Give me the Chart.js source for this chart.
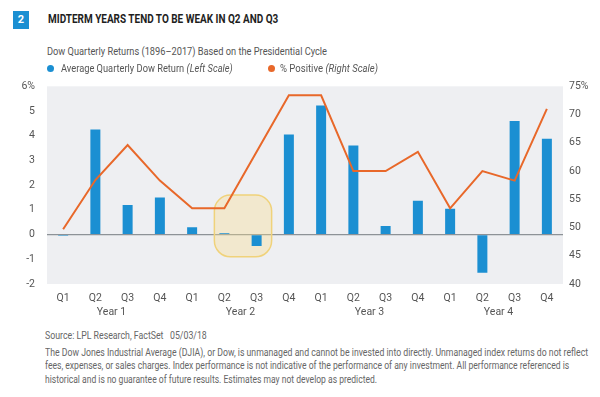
<!DOCTYPE html>
<html>
<head>
<meta charset="utf-8">
<script src="https://cdn.jsdelivr.net/npm/chart.js@4/dist/chart.umd.min.js"></script>
<style>
  html, body { margin: 0; padding: 0; background: #fff; }
  body { width: 600px; height: 397px; position: relative; overflow: hidden;
         font-family: "Roboto", "Liberation Sans", sans-serif; color: #444; }
  .fit { position: absolute; white-space: nowrap; transform-origin: 0 50%; }
  .badge { position: absolute; left: 13px; top: 11px; width: 16px; height: 18px; background: #1b8fd2;
           color: #fff; font-weight: bold; font-size: 11px; text-align: center; line-height: 18px; }
  .title { left: 48px; top: 11px; font-size: 12px; font-weight: bold; color: #1e1e1e; line-height: 16px; }
  .subtitle { left: 47px; top: 45px; font-size: 11px; color: #555; line-height: 14px; }
  .legend { top: 61.5px; font-size: 11px; color: #555; line-height: 13px; }
  .dot { position: absolute; top: 64.5px; width: 7px; height: 7px; border-radius: 50%; }
  .chart-wrap { position: absolute; left: 0; top: 68px; width: 600px; height: 254px; }
  .source { left: 45px; top: 328.5px; font-size: 10.5px; color: #666; line-height: 13px; }
  .note { left: 45px; font-size: 10px; color: #666; line-height: 12px; }
</style>
</head>
<body>
<div class="badge">2</div>
<div class="fit title" data-w="230">MIDTERM YEARS TEND TO BE WEAK IN Q2 AND Q3</div>
<div class="fit subtitle" data-w="280">Dow Quarterly Returns (1896–2017) Based on the Presidential Cycle</div>
<div class="chart-wrap"><canvas id="cycleChart"></canvas></div>
<span class="dot" style="left:47px;background:#1b8fd2;"></span>
<div class="fit legend" style="left:61px;" data-w="172">Average Quarterly Dow Return <i>(Left Scale)</i></div>
<span class="dot" style="left:268px;background:#e8682a;"></span>
<div class="fit legend" style="left:280px;" data-w="98">% Positive <i>(Right Scale)</i></div>
<div class="fit source" data-w="162">Source: LPL Research, FactSet&nbsp;&nbsp;&nbsp;05/03/18</div>
<div class="fit note" style="top:346.5px;" data-w="543">The Dow Jones Industrial Average (DJIA), or Dow, is unmanaged and cannot be invested into directly. Unmanaged index returns do not reflect</div>
<div class="fit note" style="top:360px;" data-w="524">fees, expenses, or sales charges. Index performance is not indicative of the performance of any investment. All performance referenced is</div>
<div class="fit note" style="top:373.5px;" data-w="332">historical and is no guarantee of future results. Estimates may not develop as predicted.</div>

<script>
// ═══ 데이터 ═══
const quarters    = ['Q1', 'Q2', 'Q3', 'Q4', 'Q1', 'Q2', 'Q3', 'Q4', 'Q1', 'Q2', 'Q3', 'Q4', 'Q1', 'Q2', 'Q3', 'Q4'];
const years       = ['Year 1', 'Year 2', 'Year 3', 'Year 4'];
const avgReturn   = [-0.05, 4.25, 1.2, 1.5, 0.3, 0.05, -0.46, 4.05, 5.22, 3.6, 0.35, 1.37, 1.04, -1.54, 4.6, 3.88];
const pctPositive = [49.7, 58.4, 64.6, 58.3, 53.4, 53.4, 63.4, 73.4, 73.4, 60.0, 60.0, 63.4, 53.4, 60.0, 58.3, 71.0];
const leftTicks   = { min: -2, max: 6, step: 1 };
const rightTicks  = { min: 40, max: 75, step: 5 };

// 좁은 글꼴 흉내: 원본 폭에 맞춰 가로로 눌러줌
document.querySelectorAll('.fit').forEach(el => {
    const target = +el.dataset.w;
    el.style.transform = `scaleX(${target / el.scrollWidth})`;
});

const tickFont = { family: '"Roboto", "Liberation Sans", sans-serif', size: 10.5 };

// 차트 영역 배경 + 강조 박스 (Year 2 Q2~Q3)
const backdropPlugin = {
    id: 'backdrop',
    beforeDraw(chart) {
        const { ctx, chartArea: a } = chart;
        ctx.save();
        ctx.fillStyle = '#eeeff2';
        ctx.fillRect(a.left, a.top, a.right - a.left, a.bottom - a.top);
        ctx.restore();
    },
    beforeDatasetsDraw(chart) {
        const { ctx, scales } = chart;
        const x0 = scales.x.getPixelForValue(5) - 10;
        const x1 = scales.x.getPixelForValue(6) + 15;
        const y0 = scales.y.getPixelForValue(1.6);
        const y1 = scales.y.getPixelForValue(-0.9);
        ctx.save();
        ctx.beginPath();
        ctx.roundRect(x0, y0, x1 - x0, y1 - y0, 16);
        ctx.fillStyle = 'rgba(250, 222, 140, 0.35)';
        ctx.fill();
        ctx.lineWidth = 1.5;
        ctx.strokeStyle = '#f0d27a';
        ctx.stroke();
        ctx.restore();
    }
};

new Chart(document.getElementById('cycleChart').getContext('2d'), {
    data: {
        labels: quarters,
        datasets: [
            {
                type: 'line',
                data: pctPositive,
                yAxisID: 'y2',
                borderColor: '#e8682a',
                borderWidth: 2,
                pointRadius: 0,
                tension: 0,
                order: 0
            },
            {
                type: 'bar',
                data: avgReturn,
                yAxisID: 'y',
                backgroundColor: '#1b8fd2',
                barPercentage: 0.31,
                categoryPercentage: 1,
                order: 1
            }
        ]
    },
    options: {
        responsive: true,
        maintainAspectRatio: false,
        animation: false,
        layout: { padding: 0 },
        plugins: { legend: { display: false }, tooltip: { enabled: false } },
        scales: {
            x: {
                position: 'bottom',
                grid: { display: false, drawTicks: false },
                border: { display: false },
                ticks: { font: tickFont, color: '#555', padding: 8, maxRotation: 0 },
                afterFit: s => { s.height = 22; }
            },
            x2: {
                type: 'category',
                labels: years,
                position: 'bottom',
                offset: true,
                grid: { display: false, drawTicks: false },
                border: { display: false },
                ticks: { font: tickFont, color: '#555', padding: 0, maxRotation: 0 },
                afterFit: s => { s.height = 16; }
            },
            y: {
                position: 'left',
                min: leftTicks.min, max: leftTicks.max,
                ticks: { stepSize: leftTicks.step, font: tickFont, color: '#555', padding: 12,
                         callback: v => v === leftTicks.max ? v + '%' : v },
                grid: { drawTicks: false, color: c => c.tick && c.tick.value === 0 ? '#8d9297' : 'transparent', lineWidth: 1.2 },
                border: { display: false },
                afterFit: s => { s.width = 47; }
            },
            y2: {
                position: 'right',
                min: rightTicks.min, max: rightTicks.max,
                ticks: { stepSize: rightTicks.step, font: tickFont, color: '#555', padding: 6,
                         callback: v => v === rightTicks.max ? v + '%' : v },
                grid: { display: false, drawTicks: false },
                border: { display: false },
                afterFit: s => { s.width = 37; }
            }
        }
    },
    plugins: [backdropPlugin]
});
</script>
</body>
</html>
